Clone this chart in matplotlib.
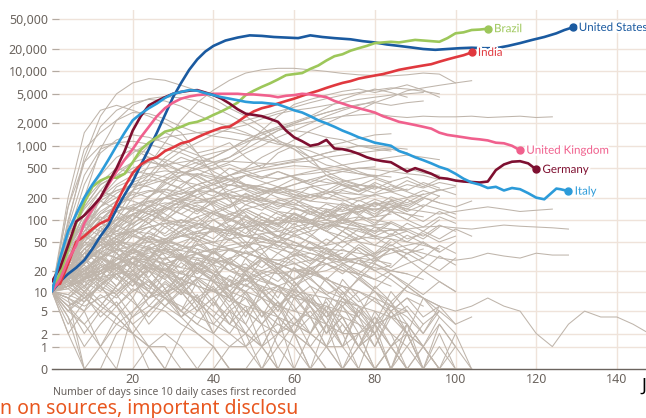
import numpy as np
import matplotlib.pyplot as plt
import matplotlib.patheffects as pe

plt.rcParams['font.family'] = ['Noto Sans', 'DejaVu Sans']

# ---------------------------------------------------------------------------
# highlighted countries: (day, daily new cases, rolling average)
us_days = [0, 2, 4, 6, 8, 10, 12, 14, 16, 18, 20, 22, 24, 26, 28, 30, 32, 34, 36, 38, 40, 43, 46, 49, 52,
           55, 58, 61, 64, 67, 70, 74, 77, 80, 83, 86, 89, 92, 95, 98, 101, 104, 107, 110, 113, 116, 119,
           122, 125, 127, 129]
us_vals = [10, 14, 18, 22, 28, 40, 60, 85, 140, 220, 330, 550, 900, 1500, 2600, 4500, 7000, 10500, 14500,
           18500, 22000, 26000, 28500, 30500, 30000, 29000, 28500, 28000, 30500, 29000, 28000, 27000, 25500,
           24500, 23000, 22000, 21000, 20000, 19500, 20000, 20500, 20800, 20500, 20500, 22000, 24000, 26500,
           29000, 32500, 36000, 39000]

brazil_days = list(range(0, 110, 2))
brazil_vals = [10, 18, 40, 90, 170, 280, 340, 380, 370, 420, 600, 880, 1100, 1300, 1550, 1650, 1800, 2000,
               2100, 2300, 2600, 2900, 3300, 3800, 4800, 5500, 6200, 6900, 7800, 8900, 9200, 9500, 10800,
               12000, 14000, 16000, 17000, 19000, 20500, 22000, 24000, 24500, 25000, 24500, 25500, 26500,
               26000, 25500, 25000, 28000, 32500, 33500, 36000, 36500, 37500]

india_days = list(range(0, 106, 2))
india_vals = [12, 13, 25, 50, 60, 75, 90, 100, 170, 280, 430, 560, 650, 700, 850, 950, 1080, 1150, 1300,
              1450, 1600, 1750, 1800, 2100, 2500, 2900, 3200, 3400, 3700, 4000, 4300, 4700, 5100, 5500,
              6000, 6500, 7000, 7400, 8000, 8400, 8800, 9200, 9800, 10500, 11000, 11500, 12000, 12500,
              13500, 14500, 15500, 16500, 18000]

uk_days = list(range(0, 118, 2))
uk_vals = [10, 15, 28, 45, 90, 140, 200, 300, 450, 650, 900, 1300, 1800, 2500, 3200, 3800, 4300, 4600, 4800,
           4900, 5000, 5000, 5000, 5000, 4900, 4900, 4800, 4700, 4500, 4700, 4800, 5000, 4900, 4700, 4500,
           4000, 3700, 3400, 3200, 3000, 2800, 2500, 2300, 2100, 2000, 1900, 1800, 1700, 1500, 1400, 1350,
           1300, 1250, 1220, 1180, 1100, 1080, 1000, 870]

germany_days = list(range(0, 122, 2))
germany_vals = [14, 22, 45, 95, 115, 150, 200, 320, 500, 850, 1600, 2500, 3500, 4000, 4500, 5000, 5300, 5500,
                5600, 5200, 4800, 4300, 3700, 3100, 2700, 2600, 2500, 2300, 2100, 1600, 1300, 1150, 1000,
                1050, 1200, 920, 900, 850, 780, 700, 650, 620, 600, 520, 450, 500, 460, 420, 370, 360, 340,
                330, 325, 320, 330, 470, 560, 610, 620, 580, 480]

italy_days = list(range(0, 124, 2)) + [125, 126, 128]
italy_vals = [10, 30, 70, 120, 200, 300, 430, 650, 1000, 1500, 2200, 2700, 3200, 3700, 4400, 5000, 5300, 5600,
              5500, 5100, 4800, 4500, 4300, 4100, 3900, 3800, 3800, 3700, 3600, 3300, 3000, 2800, 2500, 2200,
              2000, 1800, 1600, 1450, 1300, 1200, 1100, 1050, 1000, 850, 780, 700, 640, 580, 520, 480, 420,
              360, 320, 300, 270, 280, 250, 270, 260, 230, 200, 190, 265, 260, 245]

highlight = [
    ('United States', us_days, us_vals, '#1a5aa0'),
    ('Brazil', brazil_days, brazil_vals, '#9dc75a'),
    ('India', india_days, india_vals, '#e0383e'),
    ('United Kingdom', uk_days, uk_vals, '#f0608d'),
    ('Germany', germany_days, germany_vals, '#7e0f30'),
    ('Italy', italy_days, italy_vals, '#2c9bd9'),
]

# ---------------------------------------------------------------------------
# all other countries, values every 4 days from day 0
gray_days = list(range(0, 172, 4))

gray_high = [
    [10, 90, 700, 2500, 5000, 7000, 8000, 7600, 6500, 5500, 4300, 3200, 2500, 1800, 1200, 900, 600, 450, 350, 300, 260, 330, 380, 300, 250, 280],
    [10, 40, 200, 900, 2200, 3500, 4300, 4600, 4400, 4000, 3300, 2600, 2000, 1500, 1100, 900, 700, 550, 500, 420, 380, 450, 500, 430, 400],
    [10, 12, 25, 50, 110, 250, 550, 1100, 2200, 3800, 5600, 7600, 9500, 10500, 11000, 11000, 10500, 10000, 9400, 9000, 8800, 8700, 9000, 9500, 9200, 7000],
    [10, 100, 600, 1800, 3000, 3800, 4200, 4000, 3400, 2600, 2100, 1800, 1500, 1200, 1050, 980, 950, 1000, 1100, 1250, 1400, 1450],
    [10, 150, 900, 1500, 2200, 2800, 2700, 2300, 1800, 1500, 1350, 1250, 1150, 1250, 1600, 1900, 2100, 2300, 2500, 2600, 2700, 2500, 2400, 2500, 2450, 2450, 2500, 2400, 2450, 2500, 2400, 2450],
    [10, 25, 60, 100, 150, 250, 400, 700, 1000, 1300, 1600, 1900, 2200, 2500, 2900, 3300, 3800, 4300, 4800, 5200, 5600, 6000, 5800, 5400, 5000],
    [10, 30, 70, 150, 280, 350, 420, 460, 430, 480, 550, 700, 1000, 1600, 2500, 3600, 4200, 4800, 5400, 5800, 5200, 5800, 6600, 5600, 4500],
    [10, 15, 30, 60, 100, 200, 350, 600, 850, 1100, 1400, 1700, 1900, 2300, 2700, 3000, 3200, 3500, 3800, 4200, 4500, 4800, 5000, 5200],
    [10, 20, 60, 100, 130, 150, 200, 350, 500, 700, 800, 900, 1100, 1400, 1700, 2000, 2400, 2800, 3200, 3600, 3800, 3500, 3800, 4000],
    [10, 40, 120, 200, 250, 280, 320, 400, 500, 600, 700, 900, 1200, 1500, 1800, 2100, 2500, 3200, 4200, 5000, 5800, 5200, 4500],
    [10, 20, 60, 200, 500, 800, 1100, 1300, 1400, 1500, 1600, 1550, 1400, 1250, 1150, 1000, 850, 700, 550, 450, 380, 320],
    [10, 60, 300, 800, 1200, 1400, 1300, 1100, 900, 750, 600, 400, 300, 250, 200, 170, 130, 100, 90, 80, 85, 90],
    [10, 80, 400, 900, 1100, 1150, 1050, 900, 800, 650, 450, 350, 250, 200, 170, 150, 120, 100, 80, 60, 55, 60, 70],
    [10, 8, 5, 15, 40, 100, 200, 300, 400, 500, 600, 700, 900, 1200, 1600, 2000, 2400, 2800, 3200, 3500],
    [10, 40, 120, 100, 60, 70, 90, 130, 180, 250, 300, 400, 500, 700, 900, 1200, 1600, 2000, 2500, 3000, 3800, 4500, 5500, 6000, 6500, 7000, 7500],
    [10, 40, 100, 200, 300, 400, 500, 550, 600, 650, 600, 620, 600, 580, 560, 620, 700, 800, 900, 1000, 1000, 950, 900],
    [10, 15, 25, 40, 60, 100, 150, 250, 400, 550, 700, 900, 1200, 1500, 1700, 1600, 1500, 1300, 1200, 1000, 900, 850],
    [10, 50, 150, 300, 400, 600, 1000, 1500, 1200, 800, 900, 1100, 700, 500, 800, 1000, 700, 400, 300, 250, 300],
    [10, 20, 40, 60, 80, 100, 150, 200, 300, 400, 500, 600, 800, 1000, 1300, 1600, 2000, 2500, 3000, 3500, 4000],
    [10, 150, 600, 1000, 1100, 900, 700, 500, 350, 250, 150, 80, 50, 30, 25, 20, 20, 30, 35],
    [10, 200, 1500, 3000, 3500, 3000, 2500, 2000, 1500, 800, 400, 200, 80, 40, 20, 15, 20, 30, 40, 30, 20, 15, 10, 8, 6, 5, 6, 8, 6, 5, 2, 1, 3, 5, 4, 4, 3, 2, 3, 3],
]

gray_mid = [
    [10, 30, 80, 200, 350, 500, 600, 550, 450, 400, 300, 250, 200, 150, 120, 100, 90, 70, 60, 50, 45, 40, 35, 40],
    [10, 25, 60, 120, 180, 250, 300, 350, 400, 420, 380, 350, 300, 280, 250, 300, 350, 400, 450, 500, 480, 450, 420, 400, 350],
    [10, 15, 30, 50, 70, 90, 120, 160, 200, 260, 320, 400, 480, 550, 600, 650, 700, 800, 900, 1000, 950, 900],
    [10, 40, 100, 180, 250, 300, 280, 220, 180, 150, 120, 100, 80, 70, 60, 50, 40, 30, 25, 20, 15, 12],
    [10, 20, 35, 60, 90, 120, 150, 200, 250, 300, 350, 400, 450, 500, 550, 600, 620, 700, 750, 800, 850, 900, 800],
    [10, 50, 150, 300, 400, 450, 420, 380, 330, 300, 250, 200, 180, 160, 130, 120, 100, 90, 80, 70, 60, 55, 50, 45, 40],
    [10, 12, 20, 35, 50, 80, 110, 140, 180, 220, 260, 300, 280, 250, 230, 250, 280, 300, 330, 360, 400, 380],
    [10, 30, 70, 120, 150, 140, 120, 100, 90, 110, 130, 160, 200, 240, 280, 250, 220, 200, 180, 200, 220, 240, 260],
    [10, 20, 50, 100, 160, 200, 240, 260, 240, 200, 160, 120, 100, 80, 60, 50, 40, 35, 30, 25, 20],
    [10, 15, 25, 40, 60, 80, 110, 150, 200, 250, 300, 350, 400, 380, 360, 400, 450, 500, 550, 600, 650, 700, 750, 700, 650],
    [10, 60, 200, 400, 700, 900, 800, 600, 450, 350, 250, 180, 120, 80, 60, 40, 30, 25, 20, 18, 15],
    [10, 25, 50, 80, 100, 120, 130, 140, 150, 170, 200, 230, 260, 300, 350, 400, 420, 450, 480, 500, 520],
    [10, 30, 60, 90, 130, 160, 180, 200, 190, 170, 180, 200, 220, 190, 160, 140, 130, 120, 100, 90, 80, 75, 70],
    [10, 18, 30, 50, 80, 120, 150, 170, 160, 140, 120, 150, 180, 220, 260, 300, 350, 320, 300, 280],
    [10, 40, 90, 150, 230, 300, 350, 320, 260, 200, 170, 130, 110, 90, 70, 60, 50, 40, 30, 28, 25, 20, 18, 15],
    [10, 12, 15, 20, 30, 45, 70, 100, 140, 200, 260, 330, 400, 460, 500, 540, 520, 480, 450, 420, 400],
    [10, 35, 80, 130, 180, 220, 250, 240, 200, 180, 200, 250, 300, 280, 240, 220, 200, 230, 260, 300, 280, 250],
    [10, 20, 40, 70, 100, 140, 170, 200, 230, 250, 240, 220, 200, 180, 170, 160, 150, 140, 130, 150, 170, 160, 140, 130, 120, 130, 140, 150, 140, 130, 135, 140],
    [10, 15, 30, 45, 60, 70, 80, 90, 85, 80, 75, 70, 80, 90, 100, 95, 90, 85, 80, 75, 70, 72, 75, 80, 82, 78, 75, 80, 85, 82, 80, 78, 75],
    [10, 45, 120, 250, 450, 600, 700, 650, 550, 480, 400, 350, 300, 260, 230, 200, 180, 170, 160, 150, 140, 130, 120, 110],
    [10, 30, 80, 150, 200, 180, 150, 100, 80, 60, 50, 40, 35, 30, 28, 32, 35, 30, 28, 25, 30, 35, 40, 35, 30, 28, 30, 35, 32, 30, 35, 33, 33],
]

gray_low = [
    [10, 15, 20, 30, 40, 35, 30, 25, 30, 35, 40, 45, 50, 45, 40, 35, 30, 25, 20, 18, 15, 20, 25, 30],
    [10, 8, 12, 18, 25, 35, 40, 50, 60, 55, 45, 40, 35, 30, 28, 25, 20, 15, 12, 10, 8, 6, 5],
    [10, 20, 40, 60, 70, 60, 50, 40, 30, 20, 15, 10, 8, 5, 4, 3, 2, 1, 1, 0, 0, 1, 0, 0, 0],
    [10, 12, 15, 20, 25, 30, 28, 25, 22, 20, 25, 30, 35, 40, 50, 60, 70, 80, 90, 100, 110, 120],
    [10, 25, 45, 50, 40, 30, 25, 20, 15, 12, 10, 8, 6, 5, 3, 2, 1, 0, 0, 0, 0, 0, 0, 0, 0, 0],
    [10, 15, 25, 40, 55, 70, 80, 90, 100, 90, 80, 70, 60, 55, 50, 45, 40, 45, 50, 55, 60],
    [10, 6, 8, 12, 20, 30, 40, 35, 28, 22, 18, 15, 12, 10, 12, 15, 18, 20, 25, 30, 35, 40, 45, 50],
    [10, 20, 35, 30, 25, 18, 12, 8, 5, 3, 2, 1, 1, 2, 3, 2, 1, 0, 0, 1, 0, 0],
    [10, 15, 22, 30, 38, 45, 50, 55, 60, 65, 70, 75, 80, 85, 90, 95, 100, 110, 120, 130, 140, 150, 160],
    [10, 12, 14, 16, 18, 20, 22, 20, 18, 16, 14, 12, 10, 8, 6, 5, 4, 3, 2, 2, 3, 4, 5],
    [10, 30, 50, 45, 35, 25, 20, 15, 10, 8, 5, 3, 2, 1, 0, 0],
    [10, 18, 28, 40, 50, 60, 55, 50, 45, 40, 35, 40, 45, 50, 60, 70, 80, 90, 100, 110, 100, 90],
    [10, 8, 6, 8, 10, 15, 20, 25, 30, 35, 40, 38, 35, 30, 25, 20, 18, 15, 12, 10],
    [10, 15, 20, 25, 20, 15, 10, 6, 4, 2, 1, 0, 0, 0, 1, 0, 0, 0, 0, 0, 0, 0, 0, 0, 0, 0, 0],
    [10, 20, 30, 40, 50, 45, 40, 50, 60, 70, 80, 70, 60, 50, 45, 40, 35, 30, 28, 25, 22, 20, 18],
    [10, 12, 15, 18, 22, 26, 30, 35, 40, 45, 50, 55, 60, 65, 70, 80, 90, 100, 120, 140, 160, 180, 200, 220, 250],
    [10, 25, 40, 55, 65, 70, 65, 55, 45, 35, 28, 20, 15, 12, 10, 8, 7, 6, 5, 4],
    [10, 15, 18, 20, 22, 25, 28, 30, 32, 30, 28, 25, 22, 20, 18, 20, 22, 25, 28, 30, 28, 25],
    [10, 20, 30, 35, 30, 25, 22, 18, 15, 12, 10, 12, 15, 18, 22, 25, 28, 30],
    [10, 5, 3, 6, 12, 20, 30, 40, 50, 60, 70, 65, 60, 55, 50, 45, 42, 40, 38, 35, 32],
    [10, 14, 18, 22, 28, 35, 45, 55, 70, 85, 100, 120, 140, 160, 180, 200, 220, 240, 230, 220, 210],
    [10, 22, 35, 45, 50, 48, 42, 38, 32, 28, 24, 20, 17, 14, 12, 10, 9, 8, 7, 6, 5, 4, 3],
    [10, 12, 16, 20, 25, 30, 35, 40, 38, 35, 30, 25, 20, 15, 12, 9, 7, 5, 4, 3, 2],
]

gray_noisy = [
    [10, 18, 30, 55, 40, 70, 90, 60, 80, 110, 75, 95, 130, 100, 85, 120, 90, 70, 100, 80, 60, 75, 55, 65, 50, 60],
    [10, 25, 15, 30, 45, 25, 40, 20, 35, 15, 25, 10, 18, 8, 12, 5, 9, 4, 6, 2, 4, 1, 3, 0, 1, 0],
    [10, 30, 60, 45, 90, 150, 120, 200, 170, 250, 210, 300, 260, 220, 280, 240, 200, 250, 210, 180, 220, 190, 160, 200, 170, 150, 180],
    [10, 14, 9, 20, 12, 25, 16, 30, 22, 35, 25, 40, 30, 45, 35, 50, 38, 55, 42, 60, 45, 65, 50, 70, 55, 75, 60],
    [10, 40, 25, 60, 35, 20, 45, 25, 12, 30, 18, 8, 20, 10, 5, 12, 6, 3, 8, 4, 2, 5, 2, 1, 3, 1],
    [10, 20, 50, 35, 80, 120, 90, 140, 180, 130, 170, 220, 160, 200, 150, 190, 140, 110, 150, 120, 90, 130, 100, 80, 110, 90],
    [10, 12, 22, 16, 28, 40, 30, 55, 42, 70, 55, 85, 65, 100, 80, 120, 95, 140, 110, 160, 130, 180, 150, 200, 170],
    [10, 35, 20, 12, 25, 15, 8, 18, 10, 5, 14, 8, 3, 10, 6, 2, 7, 4, 1, 5, 2, 0, 3, 1, 0],
    [10, 50, 90, 70, 130, 100, 160, 120, 90, 140, 100, 70, 110, 80, 55, 90, 65, 45, 70, 50, 35, 55, 40, 30, 45, 35],
    [10, 16, 28, 45, 35, 60, 80, 65, 100, 85, 130, 110, 160, 135, 190, 160, 220, 190, 250, 220, 280, 250, 300, 270, 320, 290],
    [10, 8, 14, 10, 18, 12, 22, 15, 26, 18, 30, 20, 25, 16, 20, 12, 16, 9, 12, 7, 10, 5, 8, 4, 6],
    [10, 30, 70, 110, 85, 140, 180, 150, 120, 160, 130, 100, 140, 110, 85, 120, 95, 75, 105, 85, 65, 90, 70, 55, 80],
    [10, 22, 40, 28, 50, 35, 60, 42, 70, 50, 80, 60, 95, 70, 110, 85, 130, 100, 150, 115, 170, 130, 190, 150, 210],
    [10, 45, 30, 15, 35, 20, 10, 25, 14, 6, 18, 10, 4, 12, 7, 2, 8, 5, 1, 6, 3, 0, 2, 1],
    [10, 15, 35, 60, 45, 75, 55, 90, 65, 50, 75, 55, 40, 60, 45, 32, 50, 38, 28, 42, 30, 22, 35, 26, 20, 30],
    [10, 25, 55, 100, 160, 130, 210, 260, 220, 300, 350, 290, 400, 330, 280, 360, 300, 250, 320, 270, 230, 290, 240, 200, 260, 220],
    [10, 12, 18, 14, 22, 17, 28, 20, 32, 24, 38, 28, 45, 34, 52, 40, 60, 46, 70, 54, 80, 62, 90, 70, 100],
    [10, 28, 18, 35, 22, 42, 28, 50, 34, 20, 38, 24, 14, 28, 18, 10, 22, 14, 8, 16, 10, 6, 12, 8, 5],
    [10, 60, 140, 250, 200, 320, 400, 330, 450, 380, 300, 360, 290, 230, 280, 220, 180, 230, 190, 150, 190, 160, 130, 160, 140, 120],
    [10, 11, 16, 24, 18, 30, 22, 38, 28, 46, 34, 55, 42, 65, 50, 78, 60, 92, 70, 110, 85, 130, 100, 150],
    [10, 20, 12, 28, 16, 8, 20, 11, 5, 14, 7, 3, 10, 5, 2, 8, 4, 1, 6, 3, 1, 4, 2, 0, 2, 0],
    [10, 38, 80, 60, 110, 85, 140, 105, 170, 130, 200, 155, 230, 180, 260, 205, 280, 225, 300, 240, 320, 260, 340, 280, 360],
    [10, 15, 10, 20, 30, 22, 38, 28, 45, 34, 26, 40, 30, 22, 35, 26, 18, 30, 22, 15, 25, 18, 12, 20, 14, 10],
    [10, 55, 30, 80, 45, 25, 55, 32, 18, 40, 22, 12, 30, 16, 8, 22, 12, 5, 15, 8, 3, 10, 5, 2, 6, 3],
    [10, 18, 35, 25, 45, 65, 50, 80, 100, 75, 120, 95, 140, 110, 90, 125, 100, 80, 110, 85, 70, 95, 75, 60, 85, 70],
    [10, 9, 7, 12, 9, 15, 11, 18, 13, 22, 16, 26, 19, 30, 22, 34, 25, 38, 28, 42, 31, 46, 34, 50, 37],
    [10, 32, 55, 90, 70, 115, 90, 150, 120, 95, 130, 105, 80, 110, 85, 65, 90, 70, 52, 75, 58, 44, 62, 48, 36, 50],
    [10, 22, 14, 30, 20, 40, 26, 18, 34, 22, 14, 28, 18, 10, 22, 14, 7, 16, 10, 4, 12, 7, 2, 8, 4],
    [10, 40, 100, 180, 140, 240, 200, 320, 270, 420, 350, 500, 420, 360, 450, 380, 320, 400, 340, 290, 360, 300, 250, 320, 270],
    [10, 13, 20, 30, 24, 38, 30, 48, 38, 60, 48, 75, 60, 92, 74, 110, 88, 130, 105, 150, 120, 170, 140, 190],
    [10, 6, 2, 5, 9, 4, 8, 14, 9, 16, 11, 7, 13, 8, 4, 10, 6, 2, 7, 4, 1, 5, 2, 0, 3, 1],
    [10, 25, 45, 70, 55, 90, 120, 95, 150, 120, 180, 145, 210, 170, 140, 190, 155, 125, 170, 140, 110, 150, 120, 95, 130, 105],
    [10, 18, 11, 24, 15, 32, 20, 42, 27, 55, 35, 70, 45, 88, 58, 110, 72, 135, 90, 160, 110, 185, 130],
    [10, 15, 30, 20, 12, 25, 15, 9, 20, 12, 6, 15, 9, 4, 11, 6, 2, 8, 4, 1, 5, 2, 0, 1, 0, 0],
    [10, 70, 180, 320, 500, 420, 620, 520, 700, 580, 480, 560, 460, 380, 450, 370, 300, 360, 290, 240, 290, 240, 200, 250, 210],
    [10, 20, 40, 30, 55, 42, 70, 52, 85, 64, 100, 76, 115, 88, 130, 100, 145, 112, 160, 124, 175, 136, 190],
    [10, 12, 8, 15, 10, 18, 12, 22, 15, 26, 18, 30, 21, 34, 24, 38, 27, 42, 30, 46, 33, 50],
    [10, 35, 65, 50, 85, 65, 105, 80, 60, 90, 70, 52, 78, 58, 42, 65, 48, 34, 52, 38, 26, 40, 29, 20, 32, 24],
    [10, 17, 26, 38, 30, 46, 60, 48, 72, 90, 72, 105, 85, 125, 100, 145, 118, 165, 135, 185, 150, 205, 170, 225],
    [10, 24, 16, 32, 22, 14, 28, 18, 10, 22, 14, 8, 18, 11, 5, 14, 8, 3, 10, 6, 2, 7, 3, 1, 4, 2, 0],
]

gray_small = [
    [10, 6, 9, 4, 7, 3, 5, 8, 4, 6, 2, 5, 3, 1, 4, 2, 0, 3, 1, 2, 0, 1, 3, 1, 0, 2],
    [10, 14, 8, 12, 6, 10, 15, 9, 13, 7, 11, 5, 8, 3, 6, 9, 4, 7, 2, 5, 8, 4, 6, 3, 5],
    [10, 3, 7, 12, 18, 10, 14, 8, 5, 9, 3, 6, 2, 0, 2, 4, 1, 3, 0, 1, 2, 0, 0, 1, 0],
    [10, 20, 28, 18, 24, 14, 20, 11, 16, 8, 12, 6, 10, 4, 7, 3, 5, 2, 4, 1, 3, 1, 2],
    [10, 7, 5, 9, 6, 11, 8, 13, 9, 15, 10, 17, 12, 19, 14, 22, 16, 25, 18, 28, 20, 24],
    [10, 16, 24, 14, 9, 15, 6, 11, 4, 8, 2, 5, 1, 3, 0, 2, 4, 1, 0, 2, 0, 1, 0],
    [10, 4, 1, 3, 6, 2, 5, 9, 5, 3, 7, 4, 2, 5, 1, 3, 6, 2, 4, 1, 2, 0, 1, 0],
    [10, 12, 20, 30, 22, 16, 25, 18, 12, 20, 14, 9, 15, 10, 6, 11, 7, 4, 8, 5, 3, 6, 4, 2, 5, 3, 4],
    [10, 9, 15, 22, 30, 40, 32, 24, 18, 26, 20, 14, 10, 16, 12, 8, 12, 9, 6, 10, 7, 5, 8, 6],
    [10, 2, 5, 1, 4, 8, 3, 6, 10, 5, 8, 3, 6, 1, 4, 0, 2, 5, 2, 0, 3, 1, 0],
    [10, 11, 7, 13, 18, 12, 24, 16, 30, 22, 36, 26, 20, 28, 18, 12, 20, 14, 9, 15, 10, 7, 12, 8, 6],
    [10, 18, 10, 6, 12, 20, 14, 9, 15, 25, 18, 12, 20, 30, 22, 15, 24, 35, 26, 18, 28, 40, 30],
    [10, 5, 10, 16, 11, 7, 4, 8, 12, 7, 4, 2, 5, 8, 4, 2, 0, 1, 3, 1, 0, 0, 2, 0, 0, 1, 0],
    [10, 25, 18, 35, 50, 38, 60, 45, 32, 48, 36, 25, 38, 28, 20, 30, 22, 15, 24, 17, 11, 18, 13, 9, 14, 10],
    [10, 13, 17, 11, 8, 14, 10, 6, 11, 7, 4, 9, 5, 3, 7, 4, 2, 6, 3, 1, 4, 2, 1, 3],
]

gray_fading = [
    [10, 2, 0, 1, 3, 5, 8, 10, 12, 15, 10, 8, 5, 3, 2, 1, 0, 0],
    [10, 4, 0, 0, 2, 4, 6, 5, 3, 2, 1, 0, 0, 0, 0, 0, 0, 0, 0, 0, 0, 0, 0, 0, 0, 0],
    [10, 6, 3, 1, 0, 0, 1, 2, 1, 0, 0, 0, 0, 1, 2, 3, 2, 1, 0, 0, 0],
    [10, 12, 8, 5, 3, 2, 1, 0, 0, 0, 1, 0, 0, 0, 0, 0, 0, 0, 0, 0, 0, 0, 0, 0, 0],
    [10, 15, 10, 6, 4, 2, 0, 0, 2, 5, 8, 12, 15, 20, 25, 20, 15, 10, 8, 6],
    [10, 8, 0, 0, 0, 5, 10, 8, 6, 4, 3, 2, 1, 0, 0, 0, 0, 0, 0, 0, 0, 0],
    [10, 5, 8, 12, 6, 3, 1, 0, 0, 0, 0, 0, 0, 0, 0, 0, 0, 0, 0, 0, 0, 0, 0, 0, 0, 0, 0],
    [10, 18, 12, 7, 4, 2, 1, 1, 0, 0, 0, 1, 2, 1, 0, 0, 0, 0, 0, 0, 0, 0, 0],
]

y_ticks = [0, 1, 2, 5, 10, 20, 50, 100, 200, 500, 1000, 2000, 5000, 10000, 20000, 50000]
x_ticks = [20, 40, 60, 80, 100, 120, 140]
x_title = 'Number of days since 10 daily cases first recorded'
footer = 'n on sources, important disclosu'

#############################################################################
def fwd(y):
  return np.log10(np.maximum(y, 0) + 1)

def inv(u):
  return 10**u - 1

fig = plt.figure(figsize=(6.46, 4.18), dpi=100)
W, H = 646, 418
ax = fig.add_axes([52/W, 49/H, 1 - 52/W, 359/H])
ax.set_yscale('function', functions=(fwd, inv))

grid_c = '#efe3da'
gray_c = '#bfb5ab'

for group in (gray_small, gray_low, gray_noisy, gray_fading, gray_mid, gray_high):
  for vals in group:
    ax.plot(gray_days[:len(vals)], vals, color=gray_c, lw=0.75, zorder=2)

for name, d, v, c in highlight:
  ax.plot(d, v, color=c, lw=1.9, zorder=4, solid_capstyle='round')
  ax.plot(d[-1], v[-1], 'o', color=c, ms=5, zorder=5)
  ax.annotate(name, (d[-1], v[-1]), xytext=(4.5, 0), textcoords='offset points',
              va='center', ha='left', fontsize=8.3, color=c, zorder=6, family='Lato',
              path_effects=[pe.withStroke(linewidth=3, foreground='white')])

ax.set_xlim(0, 594/4.035)
ax.set_ylim(0, inv(359/74.4))

ax.set_yticks(y_ticks)
ax.set_yticklabels(['{:,}'.format(t) for t in y_ticks])
ax.set_xticks(x_ticks)
ax.set_xticklabels([str(t) for t in x_ticks])

for t in y_ticks[1:]:
  ax.axhline(t, color=grid_c, lw=1, zorder=1)
for t in x_ticks:
  ax.axvline(t, color=grid_c, lw=1, zorder=1)

for s in ['top', 'right', 'left']:
  ax.spines[s].set_visible(False)
ax.spines['bottom'].set_color('#6b645e')
ax.spines['bottom'].set_linewidth(1.0)
ax.spines['bottom'].set_zorder(7)

ax.tick_params(axis='y', direction='in', length=5, width=0.8, color='#b3aaa2',
               labelsize=9, labelcolor='#6b645e', pad=3)
ax.tick_params(axis='x', length=0, labelsize=9, labelcolor='#6b645e', pad=3)

fig.text(53/W, 1 - 393/H, x_title, fontsize=7.4, color='#66605c', va='center', ha='left')
fig.text(0, 1 - 414/H, footer, fontsize=14, color='#e8561e', va='baseline', ha='left')
fig.text(641/W, 1 - 386/H, 'J', fontsize=13, color='black', va='center', ha='left')

fig.savefig('out.png', dpi=100, facecolor='white')
